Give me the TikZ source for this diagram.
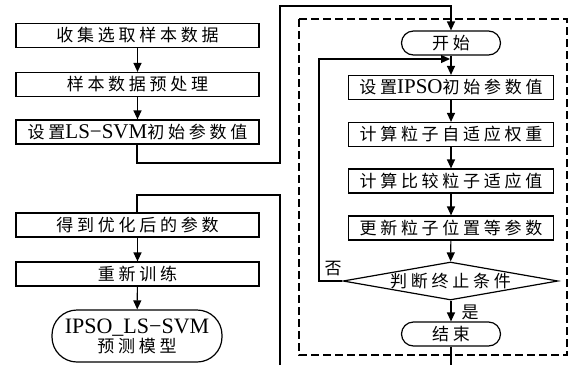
\documentclass[tikz,border=0pt]{standalone}
\usepackage{fontspec}
\setmainfont{Liberation Serif}
\newfontfamily\cjkfont[LetterSpace=22]{Noto Sans CJK SC}
\newcommand\zh[1]{{\fontsize{17}{19}\selectfont\cjkfont #1}}
\usetikzlibrary{arrows.meta,shapes.geometric}
\begin{document}
\begin{tikzpicture}[x=1pt,y=-1pt,
  line width=1.2pt,
  >={Triangle[length=9pt,width=8pt]},
  every node/.style={font=\fontsize{21}{23}\selectfont, inner sep=0pt},
  lbox/.style={draw, minimum width=243pt, minimum height=24pt},
  rbox/.style={draw, minimum width=205pt, minimum height=24pt},
  term/.style={draw, rounded corners=12pt, minimum width=99pt, minimum height=24pt},
  dec/.style={draw, diamond, aspect=5.6, minimum width=215pt, minimum height=38pt},
  lab/.style={font=\fontsize{17}{19}\selectfont}
]
\useasboundingbox (0,0) rectangle (573,365);
% left column
\node[lbox] (l1) at (137.5,35.5) {\zh{收集选取样本数据}};
\node[lbox] (l2) at (137.5,84.5) {\zh{样本数据预处理}};
\node[lbox] (l3) at (137.5,132) {\zh{设置}LS−SVM\zh{初始参数值}};
\node[lbox] (l4) at (137.5,225) {\zh{得到优化后的参数}};
\node[lbox] (l5) at (137.5,274) {\zh{重新训练}};
\node[draw, rounded corners=25pt, minimum width=170pt, minimum height=52pt, align=center, font=\fontsize{22}{24}\selectfont] (l6) at (137,336)
  {IPSO\_LS−SVM\\[-5pt]\zh{预测模型}};
% dashed frame
\draw[dash pattern=on 8pt off 4pt, line width=1.4pt] (299,19) rectangle (567,355);
% right column
\node[term] (st) at (451,43) {\zh{开始}};
\node[rbox] (r1) at (451,87.5) {\zh{设置}IPSO\zh{初始参数值}};
\node[rbox] (r2) at (451,134.5) {\zh{计算粒子自适应权重}};
\node[rbox] (r3) at (451,181) {\zh{计算比较粒子适应值}};
\node[rbox] (r4) at (451,228) {\zh{更新粒子位置等参数}};
\node[dec] (dm) at (450.5,281) {\zh{判断终止条件}};
\node[term] (en) at (451,334) {\zh{结束}};
% coordinates
\coordinate (a1) at (137,163);
\coordinate (a2) at (280,163);
\coordinate (a3) at (280,6);
\coordinate (a4) at (451,6);
\coordinate (b1) at (319,281);
\coordinate (b2) at (319,59);
\coordinate (b3) at (450,59);
\coordinate (c1) at (451,365);
\coordinate (d1) at (280,365);
\coordinate (d2) at (280,195);
\coordinate (d3) at (137,195);
% connectors
\draw[->] (l1) -- (l2);
\draw[->] (l2) -- (l3);
\draw[->] (l3.south -| a1) -- (a1) -- (a2) -- (a3) -- (a4) -- (st.north);
\draw[->] (st) -- (r1);
\draw[->] (r1) -- (r2);
\draw[->] (r2) -- (r3);
\draw[->] (r3) -- (r4);
\draw[->] (r4) -- (dm);
\draw[->] (dm.south -| en) -- (en);
\draw (en) -- (c1);
\draw[->] (dm.west) -- (b1) -- (b2) -- (b3);
\draw (d1) -- (d2) -- (d3) -- (l4.north -| d3);
\draw[->] (l4) -- (l5);
\draw[->] (l5) -- (l6);
% labels
\node[lab] (no) at (333,269) {\zh{否}};
\node[lab] (yes) at (470,312) {\zh{是}};
\end{tikzpicture}
\end{document}
